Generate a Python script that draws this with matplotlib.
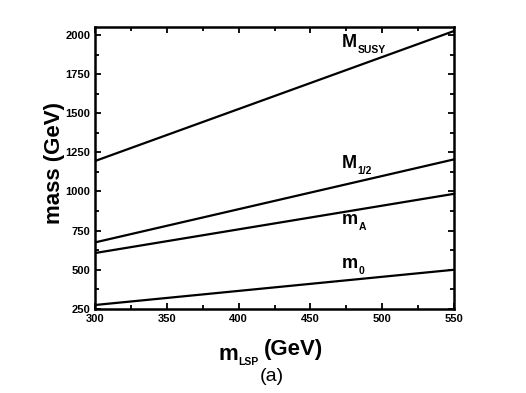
import numpy as np
import matplotlib
matplotlib.use('Agg')
import matplotlib.pyplot as plt
from matplotlib.ticker import MultipleLocator

plt.rcParams['font.family'] = 'Liberation Sans'

# Data: masses (GeV) vs LSP mass, straight lines
m_lsp = np.array([300, 550])
M_susy = np.array([1195, 2025])
M_half = np.array([675, 1205])
m_A = np.array([607, 985])
m_0 = np.array([275, 500])

# curve labels: main letter, subscript, position (data, baseline)
lab_main = ['M', 'M', 'm', 'm']
lab_sub = ['SUSY', '1/2', 'A', '0']
lab_x = [472, 472, 472, 472]
lab_y = [1924, 1150, 792, 512]

fig = plt.figure(figsize=(5.26, 3.93), dpi=100)
ax = fig.add_axes([0.181, 0.214, 0.682, 0.717])

for ys in (M_susy, M_half, m_A, m_0):
    ax.plot(m_lsp, ys, 'k-', linewidth=1.6)

for mn, sb, lx, ly in zip(lab_main, lab_sub, lab_x, lab_y):
    t = ax.text(lx, ly, mn, fontsize=13, fontweight='bold',
                ha='left', va='baseline')
    ax.annotate(sb, xy=(1, ly), xycoords=(t, 'data'),
                xytext=(0.5, -4.5), textcoords='offset points',
                fontsize=7.5, fontweight='bold', ha='left', va='baseline')

ax.set_xlim(300, 550)
ax.set_ylim(250, 2050)
ax.xaxis.set_major_locator(MultipleLocator(50))
ax.xaxis.set_minor_locator(MultipleLocator(25))
ax.yaxis.set_major_locator(MultipleLocator(250))
ax.yaxis.set_minor_locator(MultipleLocator(125))
ax.tick_params(which='both', direction='in', top=True, right=True,
               width=1.3, labelsize=8)
ax.tick_params(which='major', length=4.5)
ax.tick_params(which='minor', length=3)
for t in ax.get_xticklabels() + ax.get_yticklabels():
    t.set_fontweight('bold')
for s in ax.spines.values():
    s.set_linewidth(1.8)

# y label
fig.text(0.104, 0.585, 'mass (GeV)', fontsize=16, fontweight='bold',
         rotation=90, ha='center', va='center')

# x label: m_LSP (GeV) built from pieces
xl = fig.text(218 / 526, 0.085, 'm', fontsize=16, fontweight='bold',
              ha='left', va='baseline')
xs = ax.annotate('LSP', xy=(1, 0.085), xycoords=(xl, 'figure fraction'),
                 xytext=(0.5, -3.6), textcoords='offset points',
                 fontsize=7.5, fontweight='bold', ha='left', va='baseline',
                 annotation_clip=False)
ax.annotate('(GeV)', xy=(1, 0.085), xycoords=(xs, 'figure fraction'),
            xytext=(4, 3.6), textcoords='offset points',
            fontsize=16, fontweight='bold', ha='left', va='baseline',
            annotation_clip=False)

fig.text(0.517, 0.041, '(a)', fontsize=14, ha='center', va='center')

fig.savefig('out.png', dpi=100)
